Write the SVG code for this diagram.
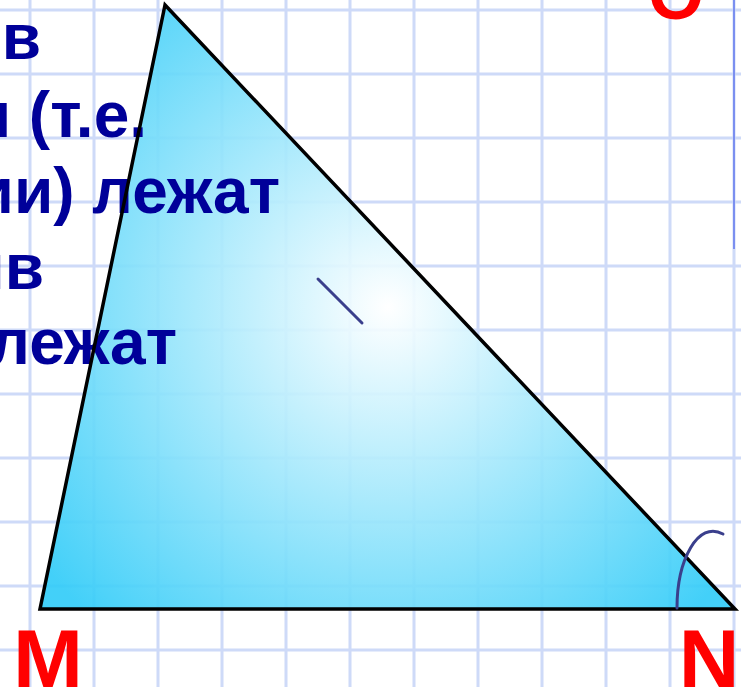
<svg xmlns="http://www.w3.org/2000/svg" width="741" height="687" viewBox="0 0 741 687">
<defs>
<style>
.grid line{stroke:#CEDAF8;stroke-width:3}
.txt{font-family:"Liberation Sans",Arial,sans-serif;font-weight:bold;font-size:64px;fill:#000099}
.lbl{font-family:"Liberation Sans",Arial,sans-serif;font-weight:bold;font-size:84px;fill:#FF0000}
.mark{fill:none;stroke:#3A3F8C;stroke-width:3;stroke-linecap:round}
</style>
<radialGradient id="g" gradientUnits="userSpaceOnUse" cx="388" cy="307" r="430">
<stop offset="0" stop-color="#FFFFFF"/>
<stop offset="1" stop-color="#33CCF8"/>
</radialGradient>
</defs>
<rect width="741" height="687" fill="#FFFFFF"/>
<g class="grid">
<line x1="30" y1="0" x2="30" y2="687"/>
<line x1="94" y1="0" x2="94" y2="687"/>
<line x1="158" y1="0" x2="158" y2="687"/>
<line x1="222" y1="0" x2="222" y2="687"/>
<line x1="286" y1="0" x2="286" y2="687"/>
<line x1="350" y1="0" x2="350" y2="687"/>
<line x1="414" y1="0" x2="414" y2="687"/>
<line x1="478" y1="0" x2="478" y2="687"/>
<line x1="542" y1="0" x2="542" y2="687"/>
<line x1="606" y1="0" x2="606" y2="687"/>
<line x1="670" y1="0" x2="670" y2="687"/>
<line x1="734" y1="0" x2="734" y2="687"/>
<line x1="0" y1="10" x2="741" y2="10"/>
<line x1="0" y1="74" x2="741" y2="74"/>
<line x1="0" y1="138" x2="741" y2="138"/>
<line x1="0" y1="202" x2="741" y2="202"/>
<line x1="0" y1="266" x2="741" y2="266"/>
<line x1="0" y1="330" x2="741" y2="330"/>
<line x1="0" y1="394" x2="741" y2="394"/>
<line x1="0" y1="458" x2="741" y2="458"/>
<line x1="0" y1="522" x2="741" y2="522"/>
<line x1="0" y1="586" x2="741" y2="586"/>
<line x1="0" y1="650" x2="741" y2="650"/>
</g>
<line x1="734" y1="0" x2="734" y2="249" stroke="#7B8FF0" stroke-width="2"/>
<g id="triangle-fill">
<polygon points="165,5 40,609 735,609" fill="url(#g)" fill-opacity="0.92"/>
</g>
<g id="text">
<text class="txt" x="41" y="59" text-anchor="end">в</text>
<text class="txt" x="147" y="137" text-anchor="end">н (т.е.</text>
<text class="txt" x="280" y="213" text-anchor="end">ии) лежат</text>
<text class="txt" x="44" y="289" text-anchor="end">ив</text>
<text class="txt" x="177" y="364" text-anchor="end">лежат</text>
</g>
<g id="triangle">
<polygon points="165,5 40,609 735,609" fill="none" stroke="#000000" stroke-width="3.5" stroke-linejoin="miter"/>
</g>
<g id="marks">
<line class="mark" x1="318" y1="279" x2="362" y2="323"/>
<path class="mark" d="M677,608 C677,560 698,520 723,534"/>
</g>
<g id="labels">
<text class="lbl" x="48" y="688" text-anchor="middle">M</text>
<text class="lbl" x="709" y="688" text-anchor="middle">N</text>
<text class="lbl" x="676" y="19" text-anchor="middle" style="font-size:72px">O</text>
</g>
</svg>
